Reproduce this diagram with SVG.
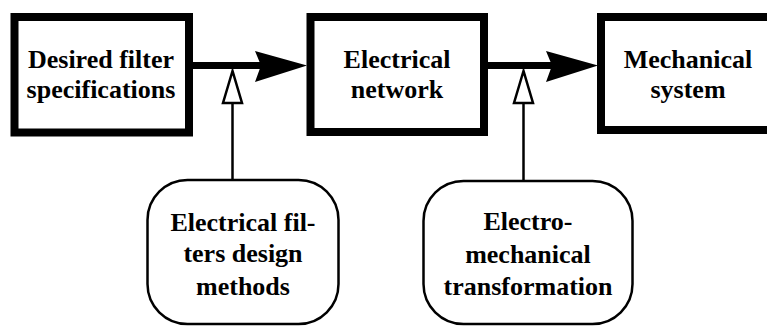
<svg xmlns="http://www.w3.org/2000/svg" width="767" height="327" viewBox="0 0 767 327">
<style>
.box{fill:#fff;stroke:#000;stroke-width:8}
.rbox{fill:#fff;stroke:#000;stroke-width:2.5}
.thick{stroke:#000;stroke-width:7;fill:none}
.thin{stroke:#000;stroke-width:2.5;fill:none}
.head{fill:#000}
.open{fill:#fff;stroke:#000;stroke-width:2.5;stroke-linejoin:miter}
</style>
<rect width="767" height="327" fill="#fff"/>
<g id="connectors">
<line class="thick" x1="192" y1="65.5" x2="262" y2="65.5"/>
<polygon class="head" points="255,51 307,65.5 255,82 261,65.5"/>
<line class="thick" x1="487" y1="65.5" x2="552" y2="65.5"/>
<polygon class="head" points="546,51 598,65.5 546,82 552,65.5"/>
<line class="thin" x1="232.5" y1="103" x2="232.5" y2="180"/>
<polygon class="open" points="232.5,71 223,103 242,103"/>
<line class="thin" x1="523.5" y1="103" x2="523.5" y2="181"/>
<polygon class="open" points="523.5,71 514,103 533,103"/>
</g>
<g font-family="'Liberation Serif', 'Times New Roman', serif" font-weight="bold" font-size="26" text-anchor="middle" fill="#000">
<g id="node-spec">
<rect class="box" x="14.5" y="17" width="174.5" height="115.5"/>
<text x="101" y="68">Desired filter</text>
<text x="101" y="98">specifications</text>
</g>
<g id="node-electrical">
<rect class="box" x="310.5" y="17" width="173.5" height="115"/>
<text x="397" y="68">Electrical</text>
<text x="397" y="98">network</text>
</g>
<g id="node-mechanical">
<rect class="box" x="601" y="17" width="180" height="113"/>
<text x="688" y="68">Mechanical</text>
<text x="688" y="98">system</text>
</g>
<g id="node-design">
<rect class="rbox" x="147.5" y="180" width="191" height="144" rx="40" ry="40"/>
<text x="243" y="231">Electrical fil-</text>
<text x="243" y="262">ters design</text>
<text x="243" y="295">methods</text>
</g>
<g id="node-transform">
<rect class="rbox" x="423.5" y="181" width="209" height="143" rx="40" ry="40"/>
<text x="528" y="230">Electro-</text>
<text x="528" y="263">mechanical</text>
<text x="528" y="295">transformation</text>
</g>
</g>
</svg>
